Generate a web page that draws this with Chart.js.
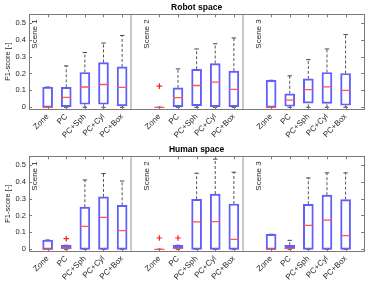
<!DOCTYPE html>
<html>
<head>
<meta charset="utf-8">
<script src="https://cdn.jsdelivr.net/npm/chart.js@4.4.0/dist/chart.umd.min.js"></script>
<style>
  body { margin: 0; background: #fff; }
  canvas { display: block; }
</style>
</head>
<body>
<canvas id="robot" width="374" height="142"></canvas>
<canvas id="human" width="374" height="142"></canvas>
<script>
const methods = ["Zone", "PC", "PC+Sph", "PC+Cyl", "PC+Box"];
const scenes = ["Scene 1", "Scene 2", "Scene 3"];
const yTicks = [0, 0.1, 0.2, 0.3, 0.4, 0.5];

// Robot space, 15 boxes (scene 1, scene 2, scene 3 x 5 methods)
const robotMin = [0, 0, 0, 0, 0, 0, 0, 0, 0, 0, 0, 0, 0, 0, 0];
const robotQ1 = [0, 0.004, 0.018, 0.018, 0.008, 0, 0.004, 0.01, 0.004, 0.004, 0, 0.006, 0.025, 0.023, 0.012];
const robotMed = [0, 0.059, 0.12, 0.135, 0.118, 0, 0.057, 0.129, 0.149, 0.106, 0, 0.043, 0.104, 0.121, 0.1];
const robotQ3 = [0.12, 0.118, 0.206, 0.265, 0.239, 0, 0.115, 0.225, 0.259, 0.214, 0.16, 0.08, 0.168, 0.206, 0.2];
const robotMax = [0.12, 0.245, 0.324, 0.38, 0.425, 0, 0.227, 0.345, 0.376, 0.41, 0.16, 0.186, 0.282, 0.345, 0.43];
const robotOutIdx = [5];
const robotOutVal = [0.125];

// Human space
const humanMin = [0, 0, 0, 0, 0, 0, 0, 0, 0, 0, 0, 0, 0, 0, 0];
const humanQ1 = [0, 0.004, 0, 0, 0, 0, 0.004, 0, 0, 0, 0, 0.004, 0, 0, 0];
const humanMed = [0, 0.007, 0.136, 0.189, 0.11, 0, 0.006, 0.162, 0.164, 0.059, 0, 0.005, 0.142, 0.172, 0.081];
const humanQ3 = [0.055, 0.024, 0.249, 0.31, 0.26, 0, 0.024, 0.296, 0.327, 0.268, 0.089, 0.024, 0.266, 0.32, 0.294];
const humanMax = [0.055, 0.024, 0.41, 0.448, 0.404, 0, 0.024, 0.45, 0.533, 0.456, 0.089, 0.053, 0.422, 0.452, 0.452];
const humanOutIdx = [1, 5, 6];
const humanOutVal = [0.063, 0.067, 0.067];

const FONT = "'Liberation Sans', Arial, sans-serif";
const AXIS = "#7a7a7a";
const TEXT = "#262626";

// box i sits at x = scene*6 + method + 1, scenes are separated at 6 and 12
function pos(i) { return Math.floor(i / 5) * 6 + (i % 5) + 1; }
function labelAt(v) {
  if (v % 6 === 0) return "";
  return methods[(v % 6) - 1];
}

// inward ticks, frame and scene labels (MATLAB look)
const decor = {
  id: "decor",
  afterDatasetsDraw(chart) {
    const { ctx, chartArea: a, scales } = chart;
    ctx.save();
    ctx.strokeStyle = AXIS;
    ctx.lineWidth = 1;
    ctx.beginPath();
    yTicks.forEach((t) => {
      const y = Math.round(scales.y.getPixelForValue(t)) + 0.5;
      ctx.moveTo(a.left, y); ctx.lineTo(a.left + 3, y);
      ctx.moveTo(a.right, y); ctx.lineTo(a.right - 3, y);
    });
    for (let i = 0; i < 15; i++) {
      const x = Math.round(scales.x.getPixelForValue(pos(i))) + 0.5;
      ctx.moveTo(x, a.bottom); ctx.lineTo(x, a.bottom - 3);
      ctx.moveTo(x, a.top); ctx.lineTo(x, a.top + 3);
    }
    ctx.stroke();
    ctx.strokeRect(Math.round(a.left) + 0.5, Math.round(a.top) + 0.5,
      Math.round(a.right - a.left), Math.round(a.bottom - a.top));

    ctx.fillStyle = TEXT;
    ctx.font = "8px " + FONT;
    ctx.textAlign = "right";
    ctx.textBaseline = "middle";
    scenes.forEach((s, k) => {
      const x = scales.x.getPixelForValue(k * 6) + 6;
      ctx.save();
      ctx.translate(x, a.top + 5);
      ctx.rotate(-Math.PI / 2);
      ctx.fillText(s, 0, 0);
      ctx.restore();
    });
    ctx.restore();
  }
};

function makeChart(id, title, mins, q1, med, q3, max, outIdx, outVal) {
  const boxes = [], medians = [], caps = [], whiskers = [], outliers = [];
  for (let i = 0; i < 15; i++) {
    const x = pos(i);
    boxes.push({ x: x, y: [q1[i], q3[i]] });
    medians.push({ x: x, y: med[i] });
    caps.push({ x: x, y: max[i] }, { x: x, y: mins[i] });
    if (max[i] > q3[i]) whiskers.push({ x: x, y: q3[i] }, { x: x, y: max[i] }, { x: x, y: null });
    if (q1[i] > mins[i]) whiskers.push({ x: x, y: mins[i] }, { x: x, y: q1[i] }, { x: x, y: null });
  }
  outIdx.forEach((i, k) => outliers.push({ x: pos(i), y: outVal[k] }));

  return new Chart(document.getElementById(id), {
    type: "bar",
    data: {
      datasets: [
        {
          type: "scatter", data: whiskers, showLine: true, spanGaps: false,
          borderColor: "#555", borderWidth: 1, borderDash: [3, 2], pointRadius: 0, order: 4
        },
        {
          type: "scatter", data: caps, pointStyle: "line", pointRadius: 2.2,
          borderColor: "#444", pointBorderColor: "#444", pointBorderWidth: 1, order: 3
        },
        {
          data: boxes, barThickness: 10, backgroundColor: "rgba(0,0,0,0)",
          borderColor: "rgb(95,95,255)", borderWidth: 1.3, borderSkipped: false, order: 2
        },
        {
          type: "scatter", data: medians, pointStyle: "line", pointRadius: 5,
          pointBorderColor: "rgb(255,85,85)", pointBorderWidth: 1.3, order: 1
        },
        {
          type: "scatter", data: outliers, pointStyle: "cross", pointRadius: 2.8,
          pointBorderColor: "rgb(255,30,30)", pointBorderWidth: 1.2, order: 0
        }
      ]
    },
    options: {
      responsive: false,
      animation: false,
      layout: { padding: { left: 0, right: 2, top: 0, bottom: 0 } },
      plugins: {
        legend: { display: false },
        tooltip: { enabled: false },
        title: {
          display: true, text: title, fullSize: false, color: "#000",
          font: { family: FONT, size: 8.5, weight: "bold", lineHeight: 1.2 },
          padding: { top: 2.5, bottom: 1.6 }
        }
      },
      scales: {
        x: {
          type: "linear", min: 0, max: 18, offset: false,
          afterFit: (s) => { s.height = 33; },
          ticks: {
            stepSize: 1, autoSkip: false, minRotation: 45, maxRotation: 45,
            padding: 3, color: TEXT, font: { family: FONT, size: 8 },
            callback: (v) => labelAt(v)
          },
          grid: {
            drawTicks: false, lineWidth: 2,
            color: (c) => (c.tick && (c.tick.value === 6 || c.tick.value === 12)) ? "#c8c8c8" : "rgba(0,0,0,0)"
          },
          border: { display: false }
        },
        y: {
          min: -0.01, max: 0.55,
          afterFit: (s) => { s.width = 29; },
          afterBuildTicks: (s) => { s.ticks = yTicks.map((v) => ({ value: v })); },
          ticks: {
            padding: 3, color: TEXT, font: { family: FONT, size: 7.5 },
            callback: (v) => (v === 0 ? "0" : v.toFixed(1))
          },
          grid: { display: false, drawTicks: false },
          border: { display: false },
          title: {
            display: true, text: "F1-score [-]", color: TEXT,
            font: { family: FONT, size: 7.5 }, padding: { top: 3, bottom: 0 }
          }
        }
      }
    },
    plugins: [decor]
  });
}

makeChart("robot", "Robot space", robotMin, robotQ1, robotMed, robotQ3, robotMax, robotOutIdx, robotOutVal);
makeChart("human", "Human space", humanMin, humanQ1, humanMed, humanQ3, humanMax, humanOutIdx, humanOutVal);
</script>
</body>
</html>
